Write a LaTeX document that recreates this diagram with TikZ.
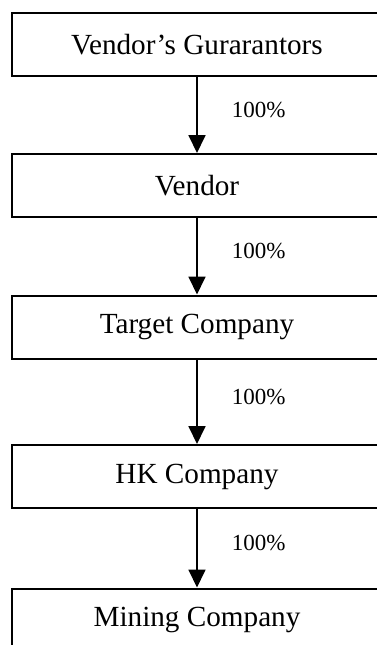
\documentclass[tikz,border=0pt]{standalone}
\usepackage{fontspec}
\setmainfont{Liberation Serif}
\usetikzlibrary{arrows.meta}

\tikzset{
  entity/.style={draw, line width=1pt, minimum width=185pt, minimum height=31.5pt, inner sep=0pt, font=\fontsize{14.6}{17}\selectfont},
  share/.style={anchor=west, inner sep=0pt, xshift=17pt, yshift=2.5pt, font=\fontsize{11.5}{13}\selectfont},
  own/.style={line width=0.9pt, -{Triangle[width=8.5pt,length=9pt]}}
}

\begin{document}
\begin{tikzpicture}
        \useasboundingbox (0,0) rectangle (188.5pt,-322.5pt);
        \clip (0,0) rectangle (188.5pt,-322.5pt);

        % Draw the chain of companies, top to bottom
        \node[entity] (guarantors) at (98.5pt,-22.4pt) {Vendor’s Gurarantors};
        \node[entity] (vendor) at (98.5pt,-92.75pt) {Vendor};
        \node[entity] (target) at (98.5pt,-163.5pt) {Target Company};
        \node[entity] (hk) at (98.5pt,-238.25pt) {HK Company};
        \node[entity] (mining) at (98.5pt,-310pt) {Mining Company};

        % Draw the ownership arrows with their shares
        \draw[own] (guarantors) -- node[share] {100\%} (vendor);
        \draw[own] (vendor) -- node[share] {100\%} (target);
        \draw[own] (target) -- node[share] {100\%} (hk);
        \draw[own] (hk) -- node[share] {100\%} (mining);
    \end{tikzpicture}
\end{document}
